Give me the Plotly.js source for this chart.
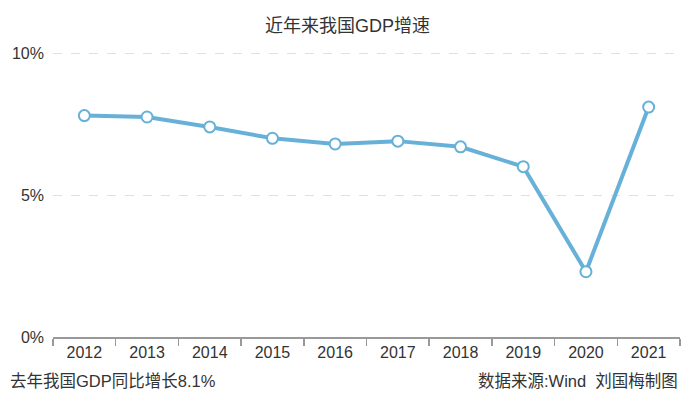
<!DOCTYPE html>
<html>
<head>
<meta charset="utf-8">
<script src="https://cdn.plot.ly/plotly-3.0.1.min.js"></script>
<style>
  html, body { margin: 0; padding: 0; background: #fff; }
  #chart { width: 695px; height: 402px; }
</style>
</head>
<body>
<div id="chart"></div>
<script>
const years = ['2012', '2013', '2014', '2015', '2016', '2017', '2018', '2019', '2020', '2021'];
const growth = [7.8, 7.75, 7.4, 7.0, 6.8, 6.9, 6.7, 6.0, 2.3, 8.1];
const yTicks = [0, 5, 10];
const yTickText = ['0%', '5%', '10%'];

const font = '"Liberation Sans", "Noto Sans CJK SC", sans-serif';

const trace = {
  x: years,
  y: growth,
  type: 'scatter',
  mode: 'lines+markers',
  line: { color: '#67b1d8', width: 4 },
  marker: { size: 11, color: '#ffffff', line: { color: '#67b1d8', width: 2 } },
  cliponaxis: false,
  hoverinfo: 'skip'
};

const layout = {
  width: 695,
  height: 402,
  margin: { l: 53, r: 15, t: 52, b: 65 },
  paper_bgcolor: '#ffffff',
  plot_bgcolor: '#ffffff',
  showlegend: false,
  font: { family: font, color: '#333333', size: 15 },
  title: {
    text: '近年来我国GDP增速',
    x: 0.5, xref: 'container', xanchor: 'center',
    y: 0.935, yanchor: 'middle',
    font: { family: font, size: 18, color: '#333333' }
  },
  xaxis: {
    type: 'category',
    range: [-0.5, 9.5],
    tickson: 'boundaries',
    ticks: 'outside',
    ticklen: 7,
    tickcolor: '#999999',
    tickwidth: 1.5,
    showline: true,
    linecolor: '#999999',
    linewidth: 1.5,
    showgrid: false,
    zeroline: false,
    fixedrange: true,
    tickfont: { family: font, size: 16, color: '#333333' }
  },
  yaxis: {
    range: [0, 10.04],
    tickvals: yTicks,
    ticktext: yTickText,
    ticks: '',
    ticklabelstandoff: 8,
    showline: false,
    showgrid: true,
    gridcolor: '#e0e0e0',
    griddash: 'dash',
    gridwidth: 1,
    zeroline: false,
    fixedrange: true,
    tickfont: { family: font, size: 16, color: '#333333' }
  },
  annotations: [
    {
      text: '去年我国GDP同比增长8.1%',
      xref: 'paper', yref: 'paper',
      x: -0.072, y: -0.155,
      xanchor: 'left', yanchor: 'middle',
      showarrow: false,
      font: { family: font, size: 16.5, color: '#333333' }
    },
    {
      text: '数据来源:Wind  刘国梅制图',
      xref: 'paper', yref: 'paper',
      x: 1.0, y: -0.155,
      xanchor: 'right', yanchor: 'middle',
      showarrow: false,
      font: { family: font, size: 16.5, color: '#333333' }
    }
  ]
};

Plotly.newPlot('chart', [trace], layout, { displayModeBar: false, staticPlot: true });
</script>
</body>
</html>
